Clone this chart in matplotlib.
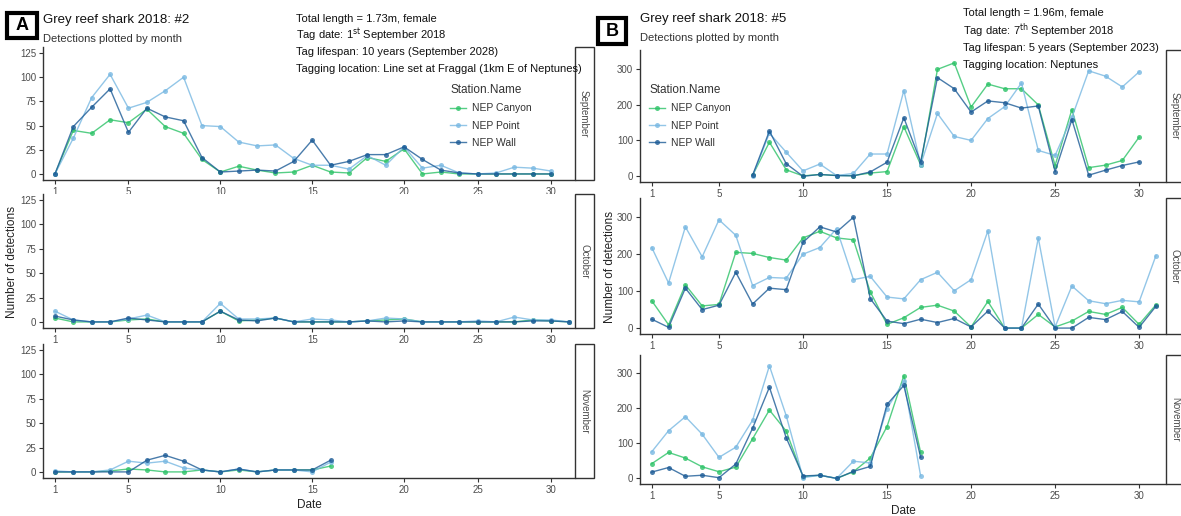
import matplotlib
matplotlib.use("Agg")
import matplotlib.pyplot as plt
from matplotlib.patches import Rectangle
from matplotlib.lines import Line2D

W, H = 1181, 516

# ---- data: panel A (shark #2), x is the position of the day level
stations = ["NEP Canyon", "NEP Point", "NEP Wall"]
colors = ["#2cc267", "#78b8e2", "#1c5b96"]

a_tick_pos = [0, 4, 9, 14, 19, 23, 27]
a_tick_labels = ["1", "5", "10", "15", "20", "25", "30"]

a_sep_canyon = [0, 45, 42, 56, 53, 67, 49, 42, 15, 2, 8, 4, 1, 2, 9, 2, 1, 17, 13, 26, 0, 2, 0, 0, 0, 0, 0, 0]
a_sep_point = [0, 37, 79, 103, 68, 74, 86, 100, 50, 49, 33, 29, 30, 16, 9, 9, 5, 19, 9, 28, 6, 9, 1, 0, 1, 7, 6, 3]
a_sep_wall = [0, 49, 69, 88, 43, 68, 59, 55, 17, 2, 3, 4, 3, 13, 35, 9, 13, 20, 20, 28, 15, 4, 1, 0, 0, 0, 0, 0]

a_oct_canyon = [4, 0, 0, 0, 2, 3, 0, 0, 0, 11, 1, 2, 4, 0, 0, 0, 0, 1, 2, 3, 0, 0, 0, 0, 0, 0, 2, 1, 0]
a_oct_point = [11, 2, 0, 0, 3, 7, 0, 0, 0, 19, 3, 3, 4, 0, 3, 2, 0, 1, 4, 3, 0, 0, 0, 1, 0, 5, 2, 2, 0]
a_oct_wall = [6, 2, 0, 0, 4, 2, 0, 0, 0, 11, 2, 1, 4, 0, 0, 0, 0, 1, 0, 1, 0, 0, 0, 0, 0, 0, 1, 1, 0]

a_nov_canyon = [0, 0, 0, 1, 3, 2, 0, 0, 2, 0, 2, 0, 2, 2, 2, 6]
a_nov_point = [1, 0, 0, 2, 11, 9, 11, 4, 2, 0, 3, 0, 2, 2, 0, 10]
a_nov_wall = [0, 0, 0, 0, 0, 12, 17, 11, 2, 0, 3, 0, 2, 2, 2, 12]

# ---- data: panel B (shark #5), x is the day of month
b_ticks = [1, 5, 10, 15, 20, 25, 30]
b_sep_days = list(range(7, 31))
b_oct_days = list(range(1, 32))
b_nov_days = list(range(1, 18))

b_sep_canyon = [3, 95, 18, 1, 5, 2, 2, 9, 13, 138, 32, 298, 316, 193, 257, 244, 244, 199, 30, 186, 24, 31, 44, 109]
b_sep_point = [0, 120, 67, 15, 34, 2, 8, 62, 62, 239, 32, 175, 111, 100, 161, 194, 260, 72, 58, 164, 294, 279, 249, 291]
b_sep_wall = [3, 126, 35, 0, 5, 2, 1, 12, 39, 163, 40, 275, 244, 179, 210, 205, 190, 196, 13, 158, 3, 17, 30, 40]

b_oct_canyon = [74, 9, 117, 60, 64, 205, 202, 191, 184, 244, 262, 244, 239, 98, 10, 28, 56, 62, 46, 3, 72, 0, 0, 37, 3, 19, 45, 37, 56, 10, 63]
b_oct_point = [218, 122, 274, 193, 293, 251, 115, 137, 135, 200, 218, 269, 131, 140, 84, 79, 131, 151, 101, 131, 263, 0, 0, 244, 3, 114, 74, 66, 75, 71, 196]
b_oct_wall = [24, 2, 108, 50, 62, 151, 65, 108, 104, 232, 274, 260, 300, 80, 19, 12, 24, 15, 26, 3, 46, 0, 0, 65, 0, 0, 29, 23, 45, 2, 59]

b_nov_canyon = [42, 74, 58, 33, 19, 32, 113, 195, 135, 5, 9, 0, 19, 58, 148, 293, 74]
b_nov_point = [76, 136, 176, 126, 60, 89, 166, 321, 179, 2, 9, 0, 49, 44, 199, 277, 7]
b_nov_wall = [18, 31, 6, 9, 2, 41, 143, 260, 116, 7, 9, 0, 20, 34, 211, 265, 60]

months = ["September", "October", "November"]

plt.rcParams['font.family'] = ['Liberation Sans', 'DejaVu Sans']
plt.rcParams['mathtext.fontset'] = 'custom'
plt.rcParams['mathtext.rm'] = 'Liberation Sans Narrow'
note_font = ['Liberation Sans Narrow', 'Liberation Sans']
grey = "#4d4d4d"

fig = plt.figure(figsize=(W / 100, H / 100), dpi=100)


def rect(x0, y0, x1, y1):
    return [x0 / W, 1 - y1 / H, (x1 - x0) / W, (y1 - y0) / H]


def style_axes(ax):
    for s in ["top", "right"]:
        ax.spines[s].set_visible(False)
    for s in ["left", "bottom"]:
        ax.spines[s].set_color("#333333")
        ax.spines[s].set_linewidth(1.0)
    ax.tick_params(colors="#333333", labelcolor=grey, labelsize=7, length=3, width=0.8, pad=2)


def strip(x0, y0, x1, y1, label):
    fig.patches.append(Rectangle((x0 / W, 1 - y1 / H), (x1 - x0) / W, (y1 - y0) / H,
                                 transform=fig.transFigure, facecolor="white",
                                 edgecolor="#333333", lw=1.0))
    fig.text((x0 + 9) / W, 1 - (y0 + y1) / 2 / H, label, rotation=270, ha="center",
             va="center", fontsize=7, color=grey)


def draw_series(ax, x, series):
    for vals, c in zip(series, colors):
        xs = x if x is not None else range(len(vals))
        ax.plot(xs, vals, color=c, lw=1.0, alpha=0.8, marker="o", ms=3.6,
                markeredgewidth=0)


# ---- panel A
a_rows = [(47, 180), (194, 328), (344, 478)]
a_data = [(a_sep_canyon, a_sep_point, a_sep_wall),
          (a_oct_canyon, a_oct_point, a_oct_wall),
          (a_nov_canyon, a_nov_point, a_nov_wall)]
for (y0, y1), series, m in zip(a_rows, a_data, months):
    ax = fig.add_axes(rect(43, y0, 575, y1))
    draw_series(ax, None, series)
    ax.set_xlim(-0.65, 28.3)
    ax.set_ylim(-6.25, 131.25)
    ax.set_yticks([0, 25, 50, 75, 100, 125])
    ax.set_xticks(a_tick_pos)
    ax.set_xticklabels(a_tick_labels)
    style_axes(ax)
    strip(575, y0, 594, y1, m)
    if m == "November":
        ax.set_xlabel("Date", fontsize=8.5, color="#222222", labelpad=3)

fig.text(12 / W, 1 - 262 / H, "Number of detections", rotation=90, ha="center",
         va="center", fontsize=8.5, color="#222222")

# ---- panel B
b_rows = [(50, 182), (198, 334), (355, 484)]
b_x = [b_sep_days, b_oct_days, b_nov_days]
b_data = [(b_sep_canyon, b_sep_point, b_sep_wall),
          (b_oct_canyon, b_oct_point, b_oct_wall),
          (b_nov_canyon, b_nov_point, b_nov_wall)]
for (y0, y1), x, series, m in zip(b_rows, b_x, b_data, months):
    ax = fig.add_axes(rect(640, y0, 1166, y1))
    draw_series(ax, x, series)
    ax.set_xlim(0.3, 31.6)
    ax.set_ylim(-16, 352)
    ax.set_yticks([0, 100, 200, 300])
    ax.set_xticks(b_ticks)
    style_axes(ax)
    strip(1166, y0, 1185, y1, m)
    if m == "November":
        ax.set_xlabel("Date", fontsize=8.5, color="#222222", labelpad=3)

fig.text(610 / W, 1 - 267 / H, "Number of detections", rotation=90, ha="center",
         va="center", fontsize=8.5, color="#222222")

# ---- headers
for (bx0, by0, bx1, by1), letter, tx, ty, title in [
        ((7, 13, 37, 38), "A", 43, 20, "Grey reef shark 2018: #2"),
        ((598, 18, 626, 44), "B", 640, 19, "Grey reef shark 2018: #5")]:
    fig.patches.append(Rectangle((bx0 / W, 1 - by1 / H), (bx1 - bx0) / W, (by1 - by0) / H,
                                 transform=fig.transFigure, facecolor="white",
                                 edgecolor="black", lw=3))
    fig.text((bx0 + bx1) / 2 / W, 1 - (by0 + by1) / 2 / H, letter, ha="center", va="center",
             fontsize=13, fontweight="bold")
    fig.text(tx / W, 1 - ty / H, title, ha="left", va="center", fontsize=9.5,
             color="#111111")
    fig.text(tx / W, 1 - (ty + 19) / H, "Detections plotted by month", ha="left",
             va="center", fontsize=8, color="#333333")

a_notes = ["Total length = 1.73m, female",
           r"Tag date: 1$^{\mathrm{st}}$ September 2018",
           "Tag lifespan: 10 years (September 2028)",
           "Tagging location: Line set at Fraggal (1km E of Neptunes)"]
b_notes = ["Total length = 1.96m, female",
           r"Tag date: 7$^{\mathrm{th}}$ September 2018",
           "Tag lifespan: 5 years (September 2023)",
           "Tagging location: Neptunes"]
for i, t in enumerate(a_notes):
    fig.text(296 / W, 1 - (19 + 16.5 * i) / H, t, ha="left", va="center", fontsize=8,
             family=note_font, color="#111111")
for i, t in enumerate(b_notes):
    fig.text(963 / W, 1 - (13 + 17.5 * i) / H, t, ha="left", va="center", fontsize=8,
             family=note_font, color="#111111")

# ---- legends
handles = [Line2D([], [], color=c, lw=1.0, alpha=0.8, marker="o", ms=3.6, markeredgewidth=0)
           for c in colors]
for lx, ly in [(446, 80), (645, 80)]:
    leg = fig.legend(handles, stations, loc="upper left", bbox_to_anchor=(lx / W, 1 - ly / H),
                     frameon=False, title="Station.Name", fontsize=7.5, title_fontsize=8.5,
                     handlelength=1.5, handletextpad=0.6, labelspacing=0.7,
                     alignment="left", borderaxespad=0)
    for t in leg.get_texts():
        t.set_color("#333333")
    leg.get_title().set_color("#333333")

fig.savefig("out.png", dpi=100)
